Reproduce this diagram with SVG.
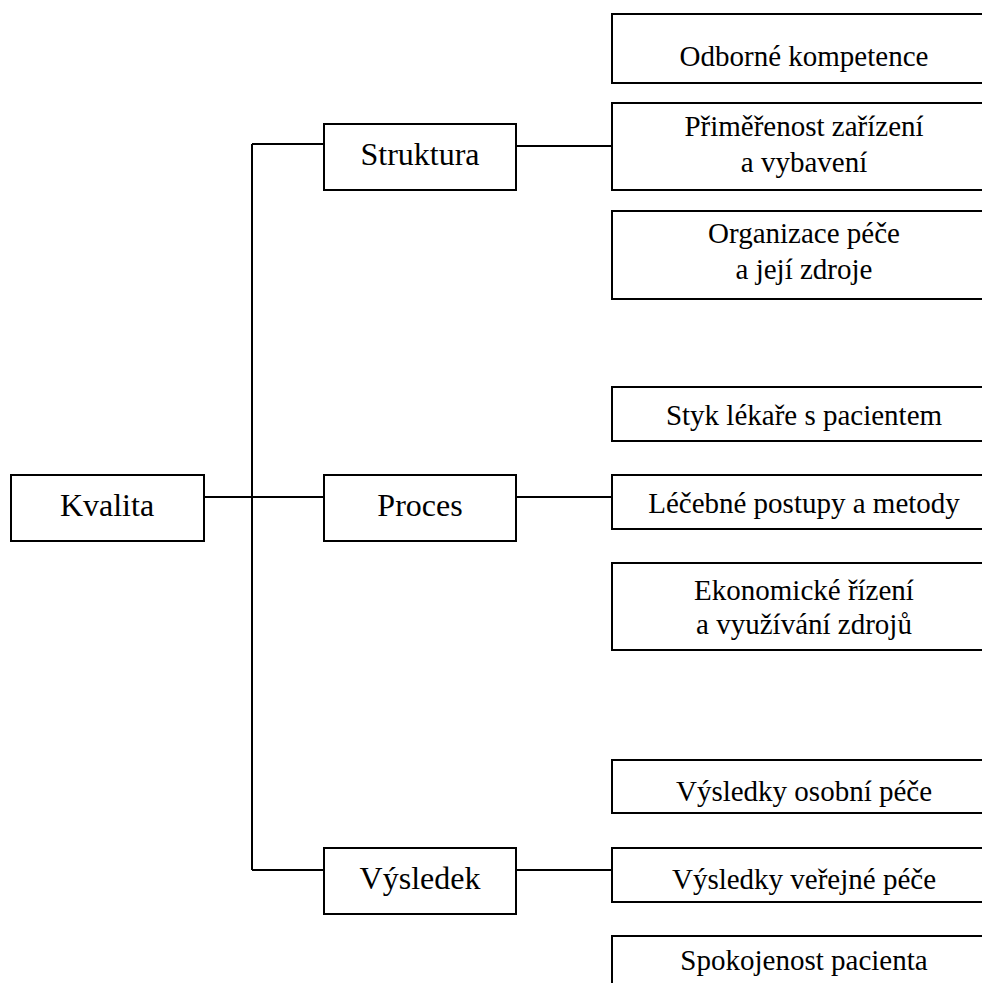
<svg xmlns="http://www.w3.org/2000/svg" width="982" height="983" viewBox="0 0 982 983">
<style>
.box{fill:#fff;stroke:#000;stroke-width:2}
.ln{stroke:#000;stroke-width:2;fill:none}
text{font-family:"Liberation Serif","Times New Roman",serif;fill:#000;text-anchor:middle}
.big{font-size:32px}
.sm{font-size:29px}
</style>
<rect width="982" height="983" fill="#fff"/>
<g id="connectors">
<path class="ln" d="M252,144 V870"/>
<path class="ln" d="M252,144 H324"/>
<path class="ln" d="M204,497 H324"/>
<path class="ln" d="M252,870 H324"/>
<path class="ln" d="M516,146 H612"/>
<path class="ln" d="M516,497 H612"/>
<path class="ln" d="M516,870 H612"/>
</g>
<g id="kvalita"><rect class="box" x="11" y="475" width="193" height="66"/><text class="big" x="107" y="516">Kvalita</text></g>
<g id="struktura"><rect class="box" x="324" y="124" width="192" height="66"/><text class="big" x="420" y="165">Struktura</text></g>
<g id="proces"><rect class="box" x="324" y="475" width="192" height="66"/><text class="big" x="420" y="516">Proces</text></g>
<g id="vysledek"><rect class="box" x="324" y="848" width="192" height="66"/><text class="big" x="420" y="889">Výsledek</text></g>
<g id="odborne"><rect class="box" x="612" y="14" width="384" height="69"/><text class="sm" x="804" y="66">Odborné kompetence</text></g>
<g id="primerenost"><rect class="box" x="612" y="103" width="384" height="87"/><text class="sm" x="804" y="136">Přiměřenost zařízení</text><text class="sm" x="804" y="172">a vybavení</text></g>
<g id="organizace"><rect class="box" x="612" y="211" width="384" height="88"/><text class="sm" x="804" y="243">Organizace péče</text><text class="sm" x="804" y="279">a její zdroje</text></g>
<g id="styk"><rect class="box" x="612" y="387" width="384" height="54"/><text class="sm" x="804" y="425">Styk lékaře s pacientem</text></g>
<g id="lecebne"><rect class="box" x="612" y="475" width="384" height="54"/><text class="sm" x="804" y="513">Léčebné postupy a metody</text></g>
<g id="ekonomicke"><rect class="box" x="612" y="563" width="384" height="87"/><text class="sm" x="804" y="600">Ekonomické řízení</text><text class="sm" x="804" y="634">a využívání zdrojů</text></g>
<g id="osobni"><rect class="box" x="612" y="760" width="384" height="53"/><text class="sm" x="804" y="801">Výsledky osobní péče</text></g>
<g id="verejne"><rect class="box" x="612" y="848" width="384" height="54"/><text class="sm" x="804" y="889">Výsledky veřejné péče</text></g>
<g id="spokojenost"><rect class="box" x="612" y="936" width="384" height="70"/><text class="sm" x="804" y="970">Spokojenost pacienta</text></g>
</svg>
